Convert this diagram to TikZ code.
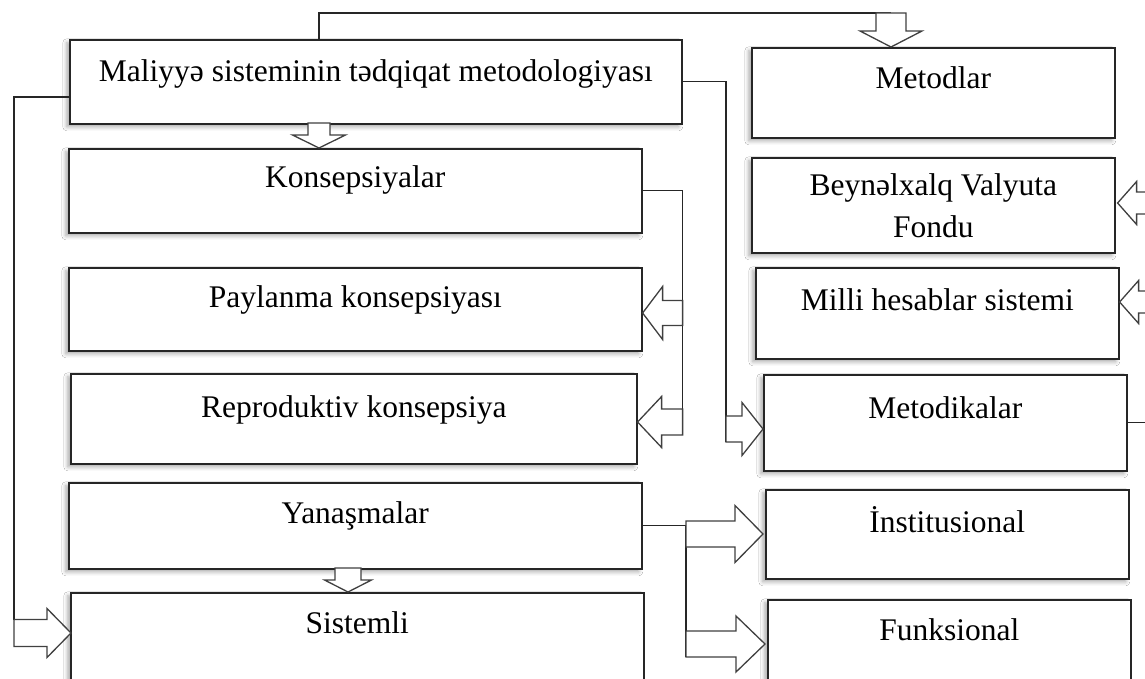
\documentclass[tikz,border=0pt]{standalone}
\usepackage{fontspec}
\setmainfont{Liberation Serif}
\usetikzlibrary{calc,shadows.blur}

% block arrows: #1 tip, #2 total length, #3 head length, #4 shaft half width, #5 head half width
\newcommand\arrD[5]{%
 \draw[blockarr] #1 -- ++({-#5},{-#3}) -- ++({#5-#4},0) -- ++(0,{-(#2-#3)}) -- ++({2*#4},0) -- ++(0,{#2-#3}) -- ++({#5-#4},0) -- cycle;}
\newcommand\arrR[5]{%
 \draw[blockarr] #1 -- ++({-#3},{-#5}) -- ++(0,{#5-#4}) -- ++({-(#2-#3)},0) -- ++(0,{2*#4}) -- ++({#2-#3},0) -- ++(0,{#5-#4}) -- cycle;}
\newcommand\arrL[5]{%
 \draw[blockarr] #1 -- ++({#3},{-#5}) -- ++(0,{#5-#4}) -- ++({#2-#3},0) -- ++(0,{2*#4}) -- ++({-(#2-#3)},0) -- ++(0,{#5-#4}) -- cycle;}

\tikzset{
 box/.style={draw=black!85, line width=1.6pt, fill=white, inner sep=0pt, anchor=north west,
   font=\fontsize{31.5pt}{42pt}\selectfont,
   blur shadow={shadow xshift=-3pt, shadow yshift=-3pt, shadow blur radius=4pt, shadow opacity=35}},
 conn/.style={draw=black!85, line width=1.3pt},
 blockarr/.style={draw=black!75, line width=1.3pt, fill=white, line join=miter},
}

\begin{document}
\begin{tikzpicture}[x=1pt, y=-1pt]
\clip (0,0) rectangle (1145,679);
\fill[white] (0,0) rectangle (1145,679);

% left column
\node[box, minimum width=612pt, text height=42pt, text depth=42pt] (meth) at (69,39) {Maliyyə sisteminin tədqiqat metodologiyası};
\node[box, minimum width=573pt, text height=39pt, text depth=45pt] (kons) at (68,148) {Konsepsiyalar};
\node[box, minimum width=573pt, text height=40pt, text depth=43pt] (payl) at (68,267) {Paylanma konsepsiyası};
\node[box, minimum width=566pt, text height=44pt, text depth=46pt] (repro) at (70,373) {Reproduktiv konsepsiya};
\node[box, minimum width=573pt, text height=41pt, text depth=45pt] (yan) at (68,482) {Yanaşmalar};
\node[box, minimum width=573pt, text height=41pt, text depth=59pt] (sist) at (70,592) {Sistemli};

% right column
\node[box, minimum width=363pt, text height=41pt, text depth=49pt] (metodlar) at (751,47) {Metodlar};
\node[box, minimum width=363pt, minimum height=95pt, align=center] (imf) at (751,157) {Beynəlxalq Valyuta\\Fondu};
\node[box, minimum width=363pt, text height=43pt, text depth=48pt] (milli) at (755,267) {Milli hesablar sistemi};
\node[box, minimum width=363pt, text height=44pt, text depth=52pt] (metodik) at (763,374) {Metodikalar};
\node[box, minimum width=363pt, text height=43pt, text depth=46pt] (inst) at (765,489) {İnstitusional};
\node[box, minimum width=363pt, text height=41pt, text depth=59pt] (funk) at (767,599) {Funksional};

% connectors
\draw[conn] ($(meth.north west)+(250,0)$) |- ($(metodlar.north west)+(140,-34)$);
\draw[conn] (kons.east) -| ($(repro.north east)+(45,62)$);
\draw[conn] (meth.east) -| ($(metodik.north west)+(-37,68)$);
\draw[conn] (metodik.east) -- ++(40,0);
\draw[conn] (yan.east) -| ($(funk.north west)+(-81,58)$);
\draw[conn] ($(meth.north west)+(0,58)$) -| ($(sist.north west)+(-56,27.5)$);

% block arrows
\arrD{($(metodlar.north west)+(140,0)$)}{34}{16}{15}{31}
\arrD{($(kons.north west)+(251,0)$)}{25}{13}{11}{26.5}
\arrL{($(payl.north east)+(0,46)$)}{40}{20}{12.5}{26.5}
\arrL{($(repro.north east)+(0,49)$)}{45}{24}{13}{25.5}
\arrR{($(metodik.north west)+(0,55)$)}{37}{21}{13}{26.5}
\arrL{($(imf.north east)+(2,46)$)}{45}{19}{11}{21.5}
\arrL{($(milli.north east)+(0,35)$)}{45}{19}{11}{21.5}
\arrR{($(inst.north west)+(-2,45)$)}{77}{28}{13}{28.5}
\arrR{($(funk.north west)+(-2,45)$)}{79}{29}{13}{28}
\arrD{($(sist.north west)+(278,0)$)}{24}{12}{13}{23.5}
\arrR{($(sist.north west)+(1,41)$)}{57}{24}{13.5}{24.5}
\end{tikzpicture}
\end{document}
